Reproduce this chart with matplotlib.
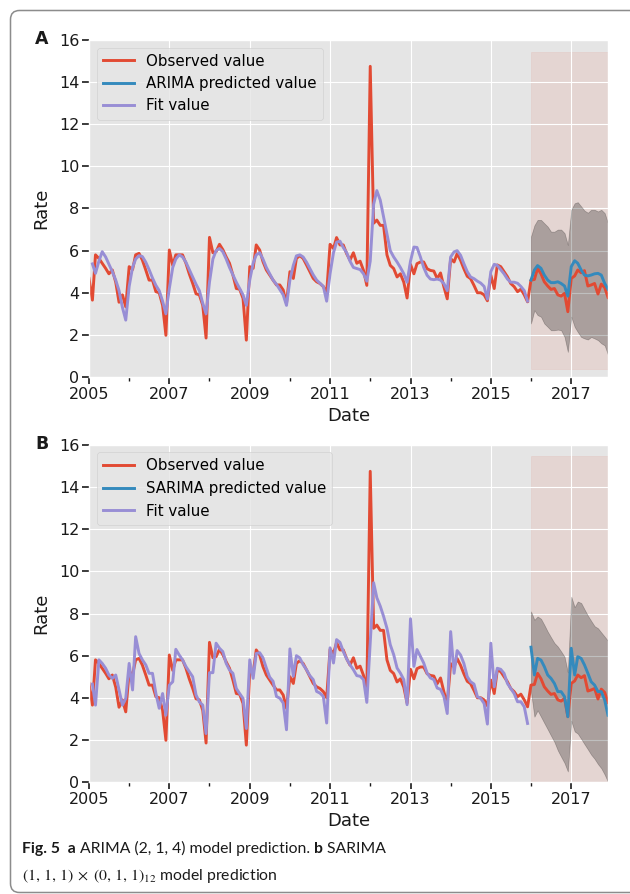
import numpy as np
import pandas as pd
import matplotlib
matplotlib.use("Agg")
import matplotlib.pyplot as plt
from matplotlib.patches import FancyBboxPatch
from matplotlib.transforms import IdentityTransform

plt.style.use("ggplot")
plt.rcParams["font.family"] = "DejaVu Sans"
plt.rcParams["mathtext.fontset"] = "stix"

# monthly rate, 2005-01 .. 2017-12
observed = [
    4.68, 3.65, 5.80, 5.63, 5.40, 5.16, 4.90, 5.08, 4.50, 3.55, 3.90, 3.33,
    5.24, 5.10, 5.80, 5.87, 5.55, 5.08, 4.60, 4.60, 4.05, 4.00, 3.40, 1.98,
    6.03, 5.30, 5.80, 5.80, 5.80, 5.40, 4.90, 4.45, 3.95, 3.90, 3.40, 1.85,
    6.63, 5.90, 5.95, 6.30, 6.05, 5.70, 5.40, 4.84, 4.20, 4.17, 3.73, 1.75,
    5.24, 5.16, 6.27, 6.03, 5.48, 5.08, 4.84, 4.60, 4.37, 4.37, 4.13, 3.50,
    5.00, 4.68, 5.63, 5.76, 5.63, 5.32, 5.00, 4.68, 4.52, 4.44, 4.29, 4.00,
    6.30, 6.10, 6.62, 6.27, 6.27, 5.85, 5.55, 5.90, 5.40, 5.50, 5.06, 4.35,
    14.75, 7.30, 7.45, 7.20, 7.20, 5.80, 5.30, 5.15, 4.75, 4.90, 4.50, 3.75,
    5.35, 4.90, 5.38, 5.46, 5.46, 5.14, 5.06, 5.03, 4.67, 4.94, 4.27, 3.71,
    5.62, 5.46, 5.86, 5.54, 5.14, 4.78, 4.67, 4.35, 4.00, 4.00, 3.90, 3.62,
    4.84, 4.20, 5.32, 5.24, 5.00, 4.76, 4.44, 4.29, 4.05, 4.17, 3.90, 3.57,
    4.60, 4.63, 5.16, 4.90, 4.52, 4.32, 4.16, 4.20, 3.90, 3.84, 3.97, 3.10,
    4.68, 4.80, 5.08, 4.95, 5.05, 4.32, 4.37, 4.44, 3.94, 4.41, 4.25, 3.78,
]

# in-sample fit, 2005-02 .. 2015-12
arima_fit = [
    5.37, 4.92, 5.50, 5.95, 5.70, 5.35, 5.00, 4.60, 4.10, 3.30, 2.70,
    4.30, 5.20, 5.60, 5.76, 5.72, 5.45, 5.10, 4.70, 4.35, 4.10, 3.60, 3.00,
    4.20, 5.20, 5.60, 5.80, 5.70, 5.45, 5.10, 4.75, 4.40, 4.10, 3.50, 3.00,
    4.50, 5.60, 6.00, 6.10, 5.95, 5.60, 5.20, 4.85, 4.50, 4.20, 3.90, 3.40,
    4.60, 5.40, 5.80, 5.90, 5.60, 5.20, 4.90, 4.60, 4.40, 4.15, 3.90, 3.40,
    4.60, 5.30, 5.75, 5.80, 5.70, 5.45, 5.15, 4.85, 4.60, 4.45, 4.30, 3.60,
    4.90, 5.90, 6.40, 6.45, 6.15, 5.90, 5.50, 5.20, 5.15, 5.10, 4.90, 4.55,
    5.50, 8.20, 8.85, 8.40, 7.60, 6.80, 6.00, 5.70, 5.46, 5.20, 4.90, 4.50,
    5.50, 6.17, 6.15, 5.70, 5.20, 4.83, 4.65, 4.62, 4.65, 4.60, 4.43, 4.10,
    5.70, 5.94, 6.00, 5.78, 5.38, 5.00, 4.75, 4.67, 4.55, 4.46, 4.30, 3.70,
    5.00, 5.35, 5.30, 5.10, 4.90, 4.65, 4.50, 4.50, 4.45, 4.30, 4.10, 3.60,
]
sarima_fit = [
    4.65, 3.65, 5.80, 5.63, 5.40, 5.08, 4.92, 5.08, 4.37, 3.65, 3.97,
    5.63, 4.37, 6.90, 6.10, 5.80, 5.56, 5.16, 5.16, 4.20, 3.50, 4.20, 3.17,
    4.60, 4.76, 6.30, 6.03, 5.80, 5.48, 5.24, 5.00, 4.13, 3.80, 3.65, 2.30,
    5.19, 5.19, 6.59, 6.35, 6.19, 5.63, 5.32, 5.16, 4.44, 4.20, 3.97, 2.54,
    5.80, 4.92, 6.10, 6.14, 5.90, 5.41, 4.98, 4.78, 4.06, 3.98, 3.75, 2.48,
    6.32, 5.02, 6.00, 5.89, 5.57, 5.33, 5.05, 4.86, 4.30, 4.22, 4.06, 2.80,
    6.37, 5.65, 6.76, 6.63, 6.20, 5.84, 5.57, 5.33, 5.05, 5.02, 4.86, 3.78,
    6.60, 9.46, 8.75, 8.35, 7.87, 7.30, 6.52, 6.05, 5.41, 5.17, 4.86, 3.67,
    7.75, 5.49, 6.29, 5.97, 5.65, 5.17, 4.94, 4.86, 4.46, 4.40, 4.05, 3.25,
    7.14, 5.16, 6.24, 6.03, 5.63, 5.00, 4.76, 4.65, 4.05, 3.97, 3.73, 2.75,
    6.59, 4.52, 5.40, 5.35, 5.16, 4.68, 4.44, 4.20, 3.81, 3.81, 3.57, 2.78,
]

# out-of-sample forecast with confidence band, 2016-01 .. 2017-12
arima_pred = [
    4.60, 5.08, 5.29, 5.16, 4.84, 4.60, 4.48, 4.48, 4.52, 4.44, 4.32, 3.84,
    5.24, 5.52, 5.40, 5.08, 4.84, 4.80, 4.84, 4.90, 4.92, 4.84, 4.44, 4.17,
]
arima_lower = [
    2.54, 3.17, 2.94, 2.86, 2.54, 2.38, 2.22, 2.22, 2.25, 2.22, 1.90, 1.19,
    2.86, 2.38, 2.14, 1.90, 1.83, 1.78, 1.90, 1.83, 1.75, 1.60, 1.50, 1.05,
]
arima_upper = [
    6.67, 7.20, 7.46, 7.46, 7.30, 7.14, 6.90, 6.90, 7.00, 7.00, 6.83, 6.27,
    7.94, 8.25, 8.30, 8.10, 7.90, 7.80, 7.94, 7.94, 7.86, 7.94, 7.78, 7.30,
]
sarima_pred = [
    6.40, 5.08, 5.87, 5.79, 5.48, 5.08, 4.92, 4.68, 4.29, 4.29, 4.05, 3.10,
    6.35, 5.08, 5.95, 5.87, 5.56, 5.16, 4.76, 4.60, 4.29, 4.29, 3.89, 3.17,
]
sarima_lower = [
    4.30, 3.10, 3.40, 3.10, 2.80, 2.50, 2.20, 1.90, 1.50, 1.20, 0.90, 0.50,
    2.90, 2.40, 2.30, 2.05, 1.80, 1.55, 1.30, 1.10, 0.85, 0.65, 0.35, 0.00,
]
sarima_upper = [
    8.10, 7.70, 7.86, 7.75, 7.46, 7.14, 6.87, 6.60, 6.43, 6.20, 5.95, 5.20,
    8.80, 8.30, 8.57, 8.50, 8.20, 7.90, 7.65, 7.40, 7.30, 7.10, 6.90, 6.70,
]

major_years = [2005, 2007, 2009, 2011, 2013, 2015, 2017]
minor_years = [2006, 2008, 2010, 2012, 2014, 2016]

dates = pd.date_range("2005-01-01", periods=len(observed), freq="MS")
fit_dates = dates[1:1 + len(arima_fit)]
pred_dates = dates[len(observed) - len(arima_pred):]

red, blue, purple = "#E24A33", "#348ABD", "#988ED5"
ink = "#1a1a1a"

fig = plt.figure(figsize=(6.30, 8.94), dpi=100)
fig.patch.set_facecolor("white")


def panel(rect, letter, name, fit, pred, lo, hi):
    ax = fig.add_axes(rect)
    ax.plot(dates, observed, color=red, lw=2.1, label="Observed value")
    ax.plot(pred_dates, pred, color=blue, lw=2.1, label=name + " predicted value")
    ax.plot(fit_dates, fit, color=purple, lw=2.1, label="Fit value")
    ax.fill_between(pred_dates, lo, hi, color="k", alpha=.25)
    ylim = ax.get_ylim()
    ax.fill_betweenx(ylim, pred_dates[0], dates[-1], color=red, alpha=.1, zorder=-1)
    ax.set_ylim(0, 16)
    ax.set_xlim(dates[0], dates[-1])
    ax.set_yticks(np.arange(0, 17, 2))
    ax.set_xticks([pd.Timestamp(f"{y}-01-01") for y in major_years])
    ax.set_xticklabels([str(y) for y in major_years])
    ax.set_xticks([pd.Timestamp(f"{y}-01-01") for y in minor_years], minor=True)
    ax.grid(which="minor", visible=False)
    ax.tick_params(axis="both", which="major", labelsize=11.5, colors=ink,
                   length=5, width=1.2, pad=2)
    ax.tick_params(axis="x", which="minor", length=3, width=1, colors=ink)
    ax.set_xlabel("Date", fontsize=13, color=ink, labelpad=4)
    ax.set_ylabel("Rate", fontsize=13, color=ink, labelpad=6)
    ax.legend(loc="upper left", fontsize=10.8, handlelength=2.1)
    fig.text(35 / 630, rect[1] + rect[3] + 0.001, letter, fontsize=12.5,
             weight="bold", color=ink, ha="left", va="center")
    return ax


panel([89 / 630, 1 - 377 / 894, 519 / 630, 337 / 894], "A", "ARIMA",
      arima_fit, arima_pred, arima_lower, arima_upper)
panel([89 / 630, 1 - 782 / 894, 519 / 630, 337 / 894], "B", "SARIMA",
      sarima_fit, sarima_pred, sarima_lower, sarima_upper)

# frame around the figure
frame = FancyBboxPatch((10.5, 1.5), 700, 882, boxstyle="round,pad=0,rounding_size=9",
                       transform=IdentityTransform(), fill=False,
                       edgecolor="#8c8c8c", lw=1.1)
fig.patches.append(frame)

# caption
fig.canvas.draw()
r = fig.canvas.get_renderer()
cap = dict(fontsize=11.3, color=ink, family="Lato", va="baseline")
pieces = [("Fig. 5", "bold"), ("  a", "bold"), (" ARIMA (2, 1, 4) model prediction. ", "normal"),
          ("b", "bold"), (" SARIMA", "normal")]
x = 22 / 630
for s, w in pieces:
    t = fig.text(x, 1 - 853 / 894, s, weight=w, **cap)
    bb = t.get_window_extent(r)
    x = bb.x1 / fig.bbox.width
fig.text(22 / 630, 1 - 880 / 894,
         r"$(1,\,1,\,1)\;\times\;(0,\,1,\,1)_{12}$ model prediction", **cap)

fig.savefig("out.png", dpi=100, facecolor="white")
